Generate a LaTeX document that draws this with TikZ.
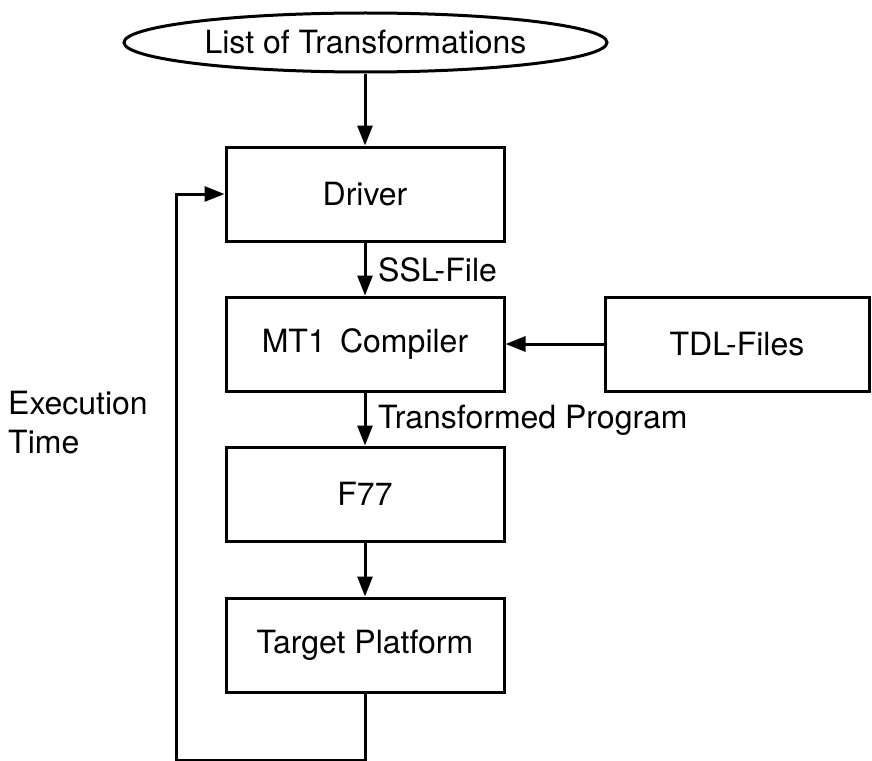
\documentclass[tikz,border=0pt]{standalone}
\usepackage{fontspec}
\setmainfont{TeX Gyre Heros}
\usetikzlibrary{shapes.geometric,arrows.meta}
\begin{document}
\begin{tikzpicture}[x=1pt,y=-1pt,
  txt/.style={font=\fontsize{32}{39}\selectfont},
  box/.style={txt,draw,line width=3pt,minimum width=278pt,minimum height=94pt,inner sep=0pt},
  lbl/.style={txt,inner sep=0pt},
  conn/.style={line width=3pt,-{Triangle[length=20pt,width=15pt]}},
  plain/.style={line width=3pt}]
\useasboundingbox (0,0) rectangle (872,760);
\node[txt,draw,ellipse,line width=3pt,minimum width=483pt,minimum height=59pt,inner sep=0pt] (list) at (365.5,42.5) {List of Transformations};
\node[box] (drv) at (365,194) {Driver};
\node[box] (mt1) at (365,344) {MT1\, Compiler};
\node[box,minimum width=264pt] (tdl) at (737,344) {TDL-Files};
\node[box] (f77) at (365,494) {F77};
\node[box] (tp) at (365,645) {Target Platform};
\node[lbl,anchor=west] (ssl) at (378,270) {SSL-File};
\node[lbl,anchor=west] (trp) at (378,420) {Transformed Program};
\node[lbl,anchor=north west,align=left] (ext) at (8,391) {Execution\\Time};
\coordinate (fb1) at (365,760);
\coordinate (fb2) at (176,760);
\draw[conn] (list.south -| drv.north) -- (drv.north);
\draw[conn] (drv) -- (mt1);
\draw[conn] (tdl) -- (mt1);
\draw[conn] (mt1) -- (f77);
\draw[conn] (f77) -- (tp);
\draw[conn] (tp.south) -- (fb1) -- (fb2) |- (drv.west);
\end{tikzpicture}
\end{document}
